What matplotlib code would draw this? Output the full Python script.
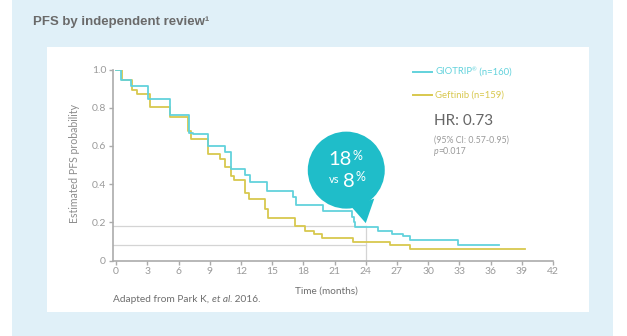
import matplotlib
matplotlib.use("Agg")
import matplotlib.pyplot as plt
from matplotlib.patches import Rectangle, Circle, Polygon
from matplotlib.transforms import IdentityTransform

W, H, DPI = 627, 336, 100

# Kaplan-Meier step data (months, estimated PFS probability)
giotrip_t = [0, 0.5, 1.45, 3.1, 5.2, 7.0, 7.4, 8.85, 10.5, 11.0, 12.4, 12.9, 14.5,
             17.0, 17.3, 19.9, 22.7, 22.85, 23.0, 25.2, 26.5, 27.6, 28.3, 32.9, 36.8]
giotrip_s = [1.0, 0.945, 0.914, 0.846, 0.762, 0.67, 0.66, 0.60, 0.57, 0.48, 0.45, 0.41, 0.365,
             0.335, 0.29, 0.26, 0.23, 0.20, 0.174, 0.153, 0.14, 0.13, 0.106, 0.08, 0.08]

gefitinib_t = [0, 0.6, 1.5, 2.0, 3.3, 5.2, 6.9, 7.2, 8.85, 10.0, 10.5, 11.0, 11.3, 12.4,
               12.8, 14.3, 14.6, 17.2, 18.2, 19.0, 19.8, 22.8, 26.3, 28.3, 39.3]
gefitinib_s = [1.0, 0.945, 0.893, 0.872, 0.806, 0.75, 0.68, 0.635, 0.56, 0.53, 0.49, 0.44, 0.42,
               0.355, 0.32, 0.27, 0.225, 0.18, 0.155, 0.14, 0.118, 0.097, 0.08, 0.062, 0.062]

landmark_month = 24
landmark_pct = [18, 8]          # GIOTRIP, Gefitinib at 24 months

x_ticks = list(range(0, 43, 3))
y_ticks = [0, 0.2, 0.4, 0.6, 0.8, 1.0]
y_tick_labels = ["0", "0.2", "0.4", "0.6", "0.8", "1.0"]

CYAN = "#62d2dc"
GOLD = "#d8c84e"
TEAL = "#1fbdc9"
BG_BLUE = "#e0f0f8"
AXIS_GREY = "#ababab"
TICK_GREY = "#9a9a9a"
FONT = ["Lato", "DejaVu Sans"]

fig = plt.figure(figsize=(W / DPI, H / DPI), dpi=DPI, facecolor="white")
renderer = fig.canvas.get_renderer()


def fx(x):
    return x / W


def fy(y):
    return 1 - y / H


def text_run(x, y, pieces, size, color, **kw):
    """Draw consecutive text pieces (text, style, size scale, rise px) from pixel (x, y-top)."""
    cur = x
    for s, style, scale, rise in pieces:
        t = fig.text(fx(cur), fy(y - rise), s, fontsize=size * scale, color=color,
                     family=FONT, style=style, ha="left", va="center", **kw)
        cur += t.get_window_extent(renderer).width
    return cur


# page background and white panel
fig.patches.append(Rectangle((fx(12), 0), fx(613 - 12), 1, transform=fig.transFigure,
                             facecolor=BG_BLUE, edgecolor="none", zorder=-10))
fig.patches.append(Rectangle((fx(47), fy(312)), fx(589 - 47), (312 - 47) / H,
                             transform=fig.transFigure, facecolor="white",
                             edgecolor="none", zorder=-9))

fig.text(fx(33), fy(22), "PFS by independent review¹", fontsize=9.5, fontweight="bold",
         color="#6a6a6a", family=["Liberation Sans", "DejaVu Sans"], va="center", ha="left")

ax = fig.add_axes([fx(113), (H - 260.5) / H, fx(553 - 113), 191 / H])
ax.set_facecolor("none")
ax.set_xlim(-0.3, 42)
ax.set_ylim(0, 1)
for side in ("top", "right"):
    ax.spines[side].set_visible(False)
for side in ("left", "bottom"):
    ax.spines[side].set_color(AXIS_GREY)
    ax.spines[side].set_linewidth(1.2)
ax.set_xticks(x_ticks)
ax.set_xticklabels([str(v) for v in x_ticks])
ax.set_yticks(y_ticks)
ax.set_yticklabels(y_tick_labels)
ax.tick_params(axis="both", colors=AXIS_GREY, labelcolor=TICK_GREY, labelsize=7.5,
               length=3, width=1.0, pad=2)
for lab in ax.get_xticklabels() + ax.get_yticklabels():
    lab.set_fontfamily(FONT)

# landmark guide lines at 24 months
hi, lo = landmark_pct[0] / 100, landmark_pct[1] / 100
for v in (hi, lo):
    ax.plot([-0.3, landmark_month], [v, v], color="#d4d4d4", lw=0.9, zorder=1)
ax.plot([landmark_month, landmark_month], [0, hi], color="#d4d4d4", lw=0.9, zorder=1)

ax.step(gefitinib_t, gefitinib_s, where="post", color=GOLD, lw=1.3, zorder=3)
ax.step(giotrip_t, giotrip_s, where="post", color=CYAN, lw=1.3, zorder=4)

fig.text(fx(75), fy(163.5), "Estimated PFS probability", rotation=90, fontsize=7.6,
         color="#8c8c8c", family=FONT, ha="center", va="center")
fig.text(fx(326.5), fy(291.5), "Time (months)", fontsize=7.2, color="#6e6e6e",
         family=FONT, ha="center", va="center")
text_run(113, 299, [("Adapted from Park K, ", "normal", 1, 0), ("et al.", "italic", 1, 0),
                    (" 2016.", "normal", 1, 0)], 7.3, "#6e6e6e")

# legend
legend_rows = [
    (71.7, CYAN, [("GIOTRIP", "normal", 1, 0), ("®", "normal", 0.6, 2), (" (n=160)", "normal", 1, 0)]),
    (95, GOLD, [("Geftinib (n=159)", "normal", 1, 0)]),
]
for yy, col, pieces in legend_rows:
    fig.lines.append(plt.Line2D([fx(413), fx(432)], [fy(yy), fy(yy)], color=col, lw=1.4,
                                transform=fig.transFigure))
    text_run(435, yy, pieces, 6.8, col)

fig.text(fx(434), fy(121.5), "HR: 0.73", fontsize=11, color="#666666", family=FONT,
         ha="left", va="center")
fig.text(fx(434), fy(140), "(95% CI: 0.57-0.95)", fontsize=6.3, color="#9a9a9a",
         family=FONT, ha="left", va="center")
text_run(434, 151.7, [("p", "italic", 1, 0), ("=0.017", "normal", 1, 0)], 6.3, "#9a9a9a")

# callout bubble pointing at the 24-month landmark
tip_x, tip_y = ax.transData.transform((landmark_month, hi))
tip_y += 3
ident = IdentityTransform()
cx, cy = tip_x - 19.5, tip_y + 53
fig.patches.append(Circle((cx, cy), 38.5, transform=ident, facecolor=TEAL,
                          edgecolor="none", zorder=5))
fig.patches.append(Polygon([(tip_x - 15, tip_y + 17), (tip_x + 8.5, tip_y + 24.5),
                            (tip_x, tip_y)], closed=True, transform=ident,
                           facecolor=TEAL, edgecolor="none", zorder=5))


def ptext(x, y, s, size, **kw):
    fig.text(x / W, y / H, s, fontsize=size, color="white", family=FONT,
             zorder=6, **kw)


ptext(cx + 5, cy + 10.5, f"{landmark_pct[0]}", 14.5, ha="right", va="center")
ptext(cx + 6, cy + 14.5, "%", 9, ha="left", va="center")
ptext(cx - 6.5, cy - 9.5, "vs", 8, ha="right", va="center")
ptext(cx + 8.5, cy - 11, f"{landmark_pct[1]}", 14.5, ha="right", va="center")
ptext(cx + 9, cy - 7, "%", 9, ha="left", va="center")

fig.savefig("out.png", dpi=DPI, facecolor="white")
